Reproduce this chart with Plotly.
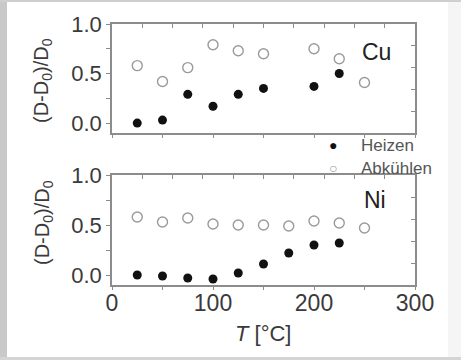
import plotly.graph_objects as go

# Data
cu_heat_T = [25, 50, 75, 100, 125, 150, 200, 225]
cu_heat = [0.00, 0.03, 0.29, 0.17, 0.29, 0.35, 0.37, 0.50]
cu_cool_T = [25, 50, 75, 100, 125, 150, 200, 225, 250]
cu_cool = [0.58, 0.42, 0.56, 0.79, 0.73, 0.70, 0.75, 0.65, 0.41]
ni_heat_T = [25, 50, 75, 100, 125, 150, 175, 200, 225]
ni_heat = [0.00, -0.01, -0.03, -0.04, 0.02, 0.11, 0.22, 0.30, 0.32]
ni_cool_T = [25, 50, 75, 100, 125, 150, 175, 200, 225, 250]
ni_cool = [0.58, 0.53, 0.57, 0.51, 0.50, 0.50, 0.49, 0.54, 0.52, 0.47]
series_names = ["Heizen", "Abkühlen"]

x_ticks = [0, 100, 200, 300]
x_ticktext = ["0", "100", "200", "300"]
y_ticks = [0, 0.5, 1.0]
y_ticktext = ["0.0", "0.5", "1.0"]

W, H = 461, 360
FONT = "Liberation Sans, Arial, sans-serif"
AXC = "#8c8c8c"
TXT = "#3a3a3a"
HEAT_C = "#111111"
COOL_C = "#9a9a9a"

def px(x):
    return x / W

def py(y):
    return 1 - y / H

xdom = [px(112), px(415)]
top_dom = [py(133), py(24)]
bot_dom = [py(285), py(175)]

fig = go.Figure()

heat_style = dict(mode="markers", marker=dict(color=HEAT_C, size=9, symbol="circle"))
cool_style = dict(mode="markers", marker=dict(color=COOL_C, size=10, symbol="circle-open", line=dict(width=1.4, color=COOL_C)))

fig.add_trace(go.Scatter(x=cu_heat_T, y=cu_heat, xaxis="x", yaxis="y", name=series_names[0], showlegend=False, **heat_style))
fig.add_trace(go.Scatter(x=cu_cool_T, y=cu_cool, xaxis="x", yaxis="y", name=series_names[1], showlegend=False, **cool_style))
fig.add_trace(go.Scatter(x=ni_heat_T, y=ni_heat, xaxis="x2", yaxis="y2", name=series_names[0], showlegend=False, **heat_style))
fig.add_trace(go.Scatter(x=ni_cool_T, y=ni_cool, xaxis="x2", yaxis="y2", name=series_names[1], showlegend=False, **cool_style))

common_line = dict(showline=True, linecolor=AXC, linewidth=1.5, showgrid=False, zeroline=False,
                   tickcolor=AXC, tickwidth=1.2, automargin=False)
tickfont = dict(family=FONT, size=22, color=TXT)

def xmain(anchor, labels):
    return dict(domain=xdom, anchor=anchor, range=[0, 300], tickmode="array", tickvals=x_ticks,
                ticktext=x_ticktext, showticklabels=labels, ticks="outside", ticklen=3,
                ticklabelstandoff=-6,
                minor=dict(dtick=50, tick0=0, ticks="outside", ticklen=3, tickcolor=AXC, tickwidth=1.2, showgrid=False),
                tickfont=dict(family=FONT, size=23, color=TXT), **common_line)

def ymain(dom, anchor):
    return dict(domain=dom, anchor=anchor, range=[-0.1, 1.0], tickmode="array", tickvals=y_ticks,
                ticktext=y_ticktext, ticks="outside", ticklen=4,
                minor=dict(dtick=0.25, tick0=0, ticks="outside", ticklen=4, tickcolor=AXC, tickwidth=1.2, showgrid=False),
                tickfont=tickfont, **common_line)

def xtop(over, anchor):
    return dict(overlaying=over, anchor=anchor, side="top", range=[0, 300], tick0=0, dtick=30,
                ticks="inside", ticklen=4, showticklabels=False, **common_line)

def yright(over, anchor):
    return dict(overlaying=over, anchor=anchor, side="right", range=[-0.1, 1.0], tick0=-0.1, dtick=0.22,
                ticks="inside", ticklen=4, showticklabels=False, **common_line)

fig.update_layout(
    width=W, height=H, autosize=False,
    margin=dict(l=0, r=0, t=0, b=0, pad=0),
    paper_bgcolor="white", plot_bgcolor="white",
    xaxis=xmain("y", False),
    yaxis=ymain(top_dom, "x"),
    xaxis2=xmain("y2", True),
    yaxis2=ymain(bot_dom, "x2"),
    xaxis3=xtop("x", "y"),
    yaxis3=yright("y", "x"),
    xaxis4=xtop("x2", "y2"),
    yaxis4=yright("y2", "x2"),
    showlegend=False,
)

fig.add_trace(go.Scatter(x=[], y=[], xaxis="x3", yaxis="y3", showlegend=False))
fig.add_trace(go.Scatter(x=[], y=[], xaxis="x4", yaxis="y4", showlegend=False))

def ann(text, x, y, size, color=TXT, angle=0, xanchor="center"):
    fig.add_annotation(text=text, x=px(x), y=py(y), xref="paper", yref="paper", textangle=angle,
                       xanchor=xanchor, yanchor="middle", showarrow=False,
                       font=dict(family=FONT, size=size, color=color))

ytitle = "(D-D<sub>0</sub>)/D<sub>0</sub>"
ann(ytitle, 43, 81, 20, angle=-90)
ann(ytitle, 43, 223, 20, angle=-90)
ann("<i>T</i> [°C]", 263, 333, 22)
ann("Cu", 376, 52, 23, color="#222222")
ann("Ni", 375, 200, 23, color="#222222")

# manual legend
ann("●", 333, 145, 14, color=HEAT_C)
ann("○", 333, 168, 14, color=COOL_C)
ann(series_names[0], 359, 145, 17, color="#555555", xanchor="left")
ann(series_names[1], 359, 168, 17, color="#555555", xanchor="left")

# frame
fig.add_shape(type="rect", xref="paper", yref="paper", x0=0, x1=px(7), y0=0, y1=1,
              fillcolor="#c9c9c9", line=dict(width=0), layer="below")
fig.add_shape(type="rect", xref="paper", yref="paper", x0=0, x1=1, y0=py(2), y1=1,
              fillcolor="#cfcfcf", line=dict(width=0), layer="below")
fig.add_shape(type="rect", xref="paper", yref="paper", x0=0, x1=1, y0=0, y1=py(357),
              fillcolor="#d4d4d4", line=dict(width=0), layer="below")
fig.add_shape(type="rect", xref="paper", yref="paper", x0=px(448), x1=1, y0=py(357), y1=py(2),
              fillcolor="#f5f5f5", line=dict(width=0), layer="below")

fig.write_html("out.html", config={"displayModeBar": False},
               post_script="document.body.style.margin='0';")
